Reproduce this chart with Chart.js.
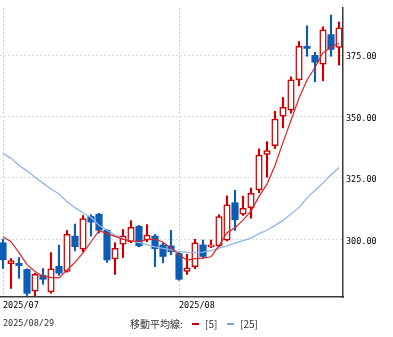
<!DOCTYPE html>
<html><head><meta charset="utf-8">
<script src="https://cdn.jsdelivr.net/npm/chart.js@4.4.1/dist/chart.umd.min.js"></script>
<style>
html,body{margin:0;padding:0;background:#fff;}
#wrap{position:relative;width:393px;height:337px;overflow:hidden;background:#fff;}
#c{position:absolute;left:0;top:0;}
.ft{position:absolute;top:316px;height:15px;line-height:15px;white-space:nowrap;color:#333;}
.mono{font-family:"DejaVu Sans Mono",monospace;font-size:8.5px;}
.cjk{font-family:"Noto Sans CJK JP",sans-serif;font-size:10px;}
.mk{position:absolute;top:323px;width:7px;height:1.5px;}
</style></head>
<body><div id="wrap"><canvas id="c" width="393" height="337"></canvas>
<div class="ft mono" style="left:3px">2025/08/29</div>
<div class="ft cjk" style="left:130px">移動平均線:</div>
<div class="mk" style="left:192px;background:#c00000"></div>
<div class="ft cjk" style="left:205px">[5]</div>
<div class="mk" style="left:227px;background:#7aa6dc"></div>
<div class="ft cjk" style="left:240px">[25]</div>
</div>
<script>
const dates = ['2025/07/01','2025/07/02','2025/07/03','2025/07/07','2025/07/08','2025/07/09','2025/07/10','2025/07/11','2025/07/14','2025/07/15','2025/07/16','2025/07/17','2025/07/18','2025/07/21','2025/07/22','2025/07/23','2025/07/24','2025/07/25','2025/07/28','2025/07/29','2025/07/30','2025/07/31',
'2025/08/01','2025/08/04','2025/08/05','2025/08/06','2025/08/07','2025/08/08','2025/08/11','2025/08/12','2025/08/13','2025/08/14','2025/08/15','2025/08/18','2025/08/19','2025/08/20','2025/08/21','2025/08/22','2025/08/25','2025/08/26','2025/08/27','2025/08/28','2025/08/29'];
const open  = [298.6,290.1,290.2,287.7,278.9,285.3,278.6,289.0,286.9,301.3,296.0,309.3,310.2,303.7,292.0,298.0,299.0,305.3,299.7,301.3,297.7,297.3,294.2,286.9,288.9,297.7,296.9,297.3,299.6,314.9,310.2,312.9,320.1,334.6,338.2,350.2,352.6,365.0,378.6,375.0,371.4,383.4,378.2];
const high  = [300.1,292.2,292.6,288.0,286.2,288.1,294.6,297.6,303.6,306.2,309.7,310.0,310.6,304.0,298.6,304.0,307.6,305.7,306.0,302.0,298.6,303.6,294.6,293.9,300.0,299.7,299.7,310.0,317.7,320.0,317.6,320.9,336.9,339.8,352.2,357.8,366.2,380.6,387.0,376.2,386.6,391.4,388.6];
const low   = [288.1,280.0,284.1,277.1,277.0,281.7,278.0,285.3,286.6,295.3,294.9,301.3,302.5,290.6,285.7,292.6,298.6,296.9,299.0,288.9,290.4,293.7,283.3,285.7,288.0,292.3,296.6,296.9,299.3,303.6,309.7,308.6,319.0,325.3,337.0,345.4,351.4,362.6,374.6,364.2,364.6,374.6,371.0];
const close = [291.7,291.3,289.3,278.0,285.7,283.7,288.0,286.2,302.0,297.0,308.4,307.0,303.7,291.6,296.3,301.3,304.9,297.3,301.7,296.2,293.0,295.0,283.7,288.4,298.6,293.0,297.7,309.3,314.0,308.0,312.6,318.7,334.3,336.2,349.0,353.8,365.0,378.6,377.8,372.2,385.4,377.4,386.2];
const ma5   = [301.0,299.0,294.6,289.7,286.9,284.9,284.5,284.3,287.5,290.6,294.5,299.0,303.5,302.3,301.2,300.0,299.4,299.1,299.9,300.1,298.8,296.5,293.7,291.5,292.1,292.3,292.9,297.3,302.7,304.7,307.8,311.5,317.5,322.5,330.1,339.5,348.5,357.5,364.9,370.0,376.0,378.4,379.8];
const ma25  = [335.0,333.0,330.1,327.9,325.3,322.9,320.5,318.5,315.3,312.9,310.7,308.9,305.7,303.7,301.7,300.3,299.5,298.7,297.7,296.9,296.3,295.7,295.1,294.7,294.6,294.8,295.4,296.4,297.3,298.4,299.5,300.5,302.3,303.7,305.7,307.7,310.3,312.9,316.9,319.9,322.9,326.3,329.3];
const monthLabels = ['2025/07','2025/08'];
const yTicks = [300,325,350,375];

const monthStarts = monthLabels.map(m => dates.findIndex(d => d.startsWith(m)));
const RED = '#cc0000', BLUE = '#0b5cb4';
const up = close.map((c,i) => c >= open[i]);
const pts = arr => arr.map((v,i) => ({x:i, y:v}));

new Chart(document.getElementById('c'), {
  type: 'bar',
  data: {
    datasets: [
      { type:'line', label:'5', data: pts(ma5), borderColor:'#e02424', borderWidth:1.2, pointRadius:0, tension:0, order:0 },
      { type:'line', label:'25', data: pts(ma25), borderColor:'#8fb6e6', borderWidth:1.3, pointRadius:0, tension:0, order:1 },
      { label:'body', data: open.map((o,i) => ({x:i, y:[o, close[i]]})),
        backgroundColor: up.map(u => u ? '#ffffff' : BLUE),
        borderColor: up.map(u => u ? RED : BLUE),
        borderWidth: up.map(u => u ? 1.5 : 0),
        borderSkipped:false, barThickness:6.5, grouped:false, order:2 },
      { label:'wick', data: low.map((l,i) => ({x:i, y:[l, high[i]]})),
        backgroundColor: up.map(u => u ? RED : BLUE), borderWidth:0,
        barThickness:1.5, grouped:false, order:3 }
    ]
  },
  options: {
    responsive:false, animation:false, events:[],
    layout:{ padding:{ top:3, left:0, right:0, bottom:26 } },
    plugins:{ legend:{display:false}, tooltip:{enabled:false} },
    scales:{
      x:{ type:'linear', min:-0.375, max:42.5, offset:false,
        grid:{ offset:false, color:'rgba(175,195,220,0.75)', lineWidth:1, drawTicks:false },
        border:{ display:true, color:'#3a3a3a', width:1.5, dash:[2,2] },
        afterBuildTicks: s => { s.ticks = monthStarts.map(v => ({value:v})); },
        afterFit: s => { s.height = 14; },
        ticks:{ align:'start', padding:3, maxRotation:0, autoSkip:false, color:'#000',
          font:{ family:'"DejaVu Sans Mono", monospace', size:8.5, lineHeight:1.4 },
          callback:(v, i) => monthLabels[i] }
      },
      y:{ position:'right', min:276.49, max:394.22,
        grid:{ color:'rgba(205,212,224,0.8)', lineWidth:1, drawTicks:false },
        border:{ display:true, color:'#3a3a3a', width:1.5, dash:[2,2] },
        afterBuildTicks: s => { s.ticks = yTicks.map(v => ({value:v})); },
        afterFit: s => { s.width = 50; },
        ticks:{ padding:3, color:'#000', labelOffset:2,
          font:{ family:'"DejaVu Sans Mono", monospace', size:8.5 },
          callback: v => Number(v).toFixed(2) }
      }
    }
  }
});
</script>
</body></html>
